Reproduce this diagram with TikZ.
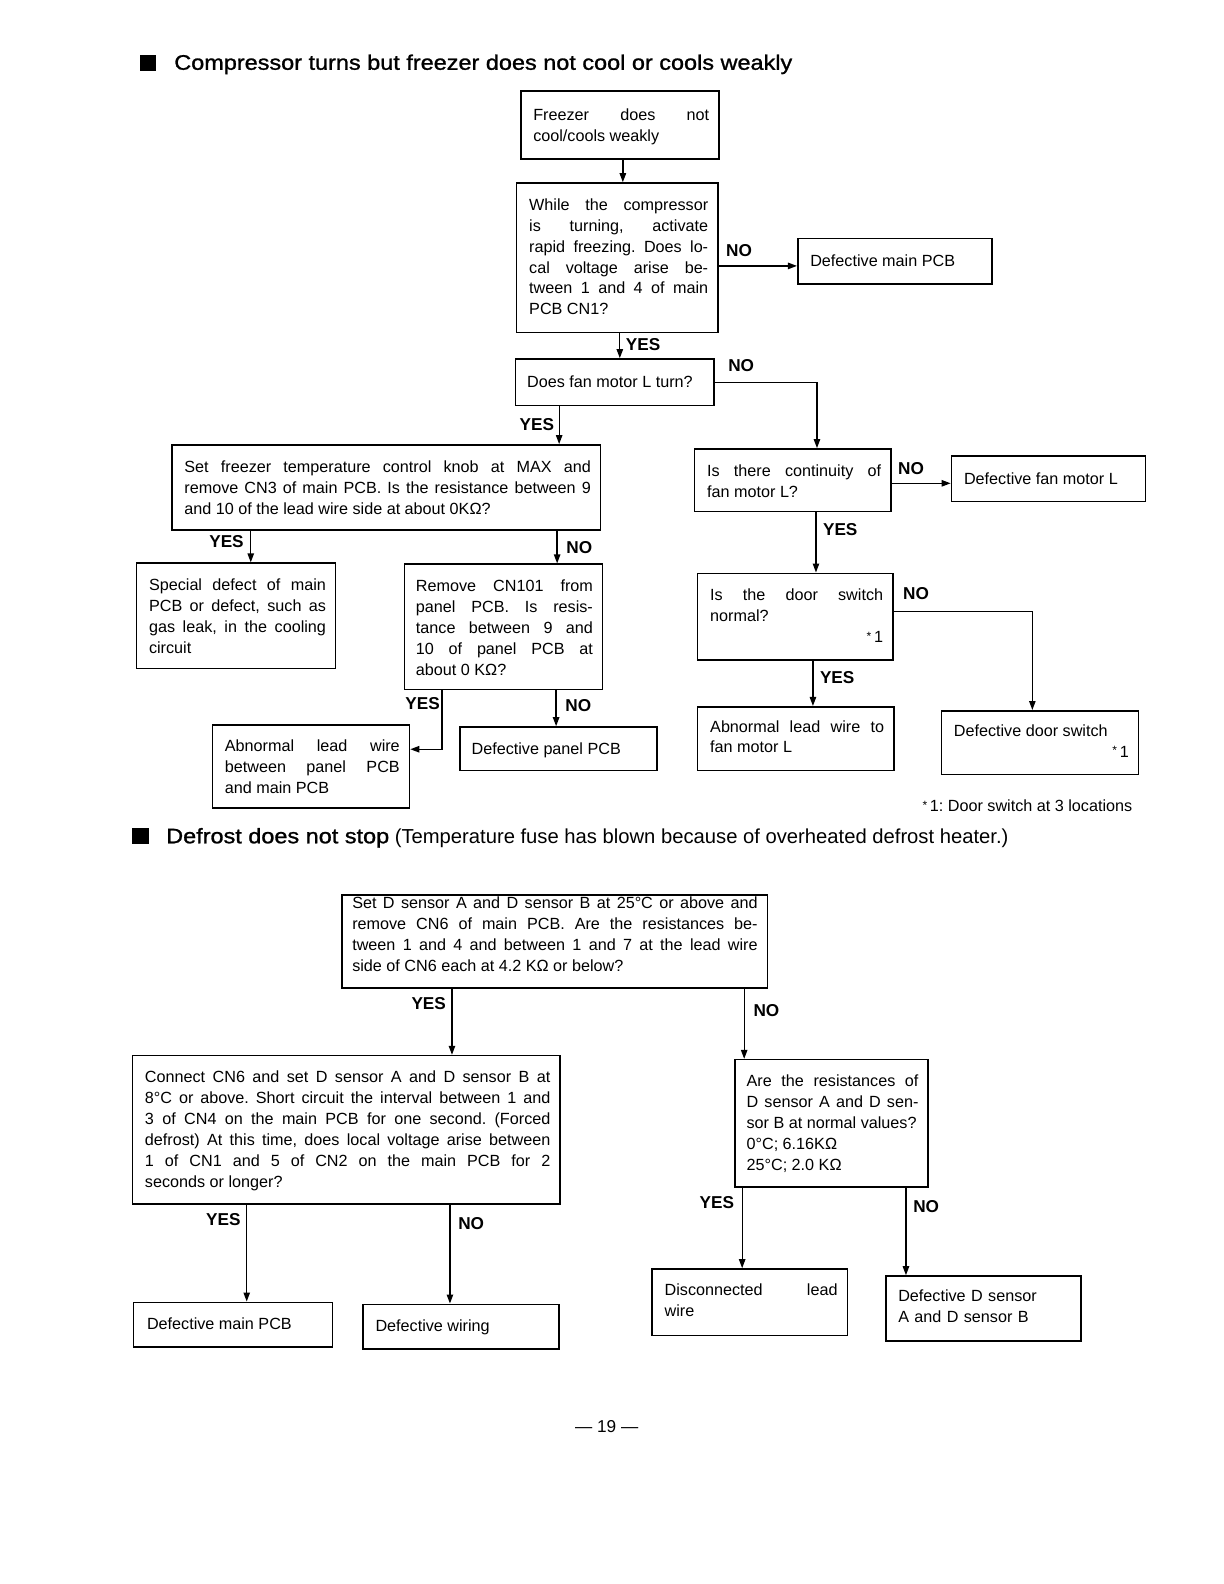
\documentclass[tikz,border=0pt]{standalone}
\usepackage{fontspec}
\setmainfont{Liberation Sans}
\newfontfamily\ttlfont[FakeStretch=1.115,FakeBold=1.2]{Liberation Sans}
\usetikzlibrary{arrows.meta,fit}
\newcommand\bfont{\fontsize{8.09}{10.46}\selectfont\frenchspacing\tolerance=10000 \hyphenpenalty=10000 \exhyphenpenalty=10000 }
\newcommand\fnstar{\raisebox{.25ex}{\fontsize{6}{6}\selectfont *}\,}
\tikzset{
  x=0.50556pt, y=-0.50556pt,
  frame/.style={draw, line width=0.8pt, inner sep=0pt},
  txt/.style={anchor=base west, inner sep=0pt, align=justify, font=\bfont},
  txl/.style={anchor=base west, inner sep=0pt, align=left, font=\bfont},
  one/.style={anchor=base west, inner sep=0pt, font=\bfont},
  arr/.style={line width=0.65pt, -{Triangle[length=4.5pt,width=3.2pt]}},
  lab/.style={font=\fontsize{8.6}{10}\selectfont\bfseries, inner sep=0pt},
}
\begin{document}
\begin{tikzpicture}
\useasboundingbox (0,0) rectangle (1210.5,1566.6);

% ---------- title 1
\fill (138,54) rectangle (154,70);
\node[anchor=base west, inner sep=0pt, font=\ttlfont\fontsize{10.52}{12}\selectfont] (t1) at (172,69) {Compressor turns but freezer does not cool or cools weakly};

% ---------- boxes, part 1
\node[frame, fit={(515,90) (711,157)}] (b1) {};
\node[txt, text width=87.97pt] (b1t) at (527,119) {Freezer does not\linebreak cool/cools weakly};

\node[frame, fit={(511,181) (710,329)}] (b2) {};
\node[txt, text width=89.48pt] (b2t) at (523,208) {While the compressor\linebreak is turning, activate\linebreak rapid freezing. Does lo-\linebreak cal voltage arise be-\linebreak tween 1 and 4 of main\linebreak PCB CN1?};

\node[frame, fit={(789,236) (981,281)}] (b3) {};
\node[one] (b3t) at (801,264) {Defective main PCB};

\node[frame, fit={(510,355) (706,401)}] (b4) {};
\node[one] (b4t) at (521,383) {Does fan motor L turn?};

\node[frame, fit={(170,440) (594,524)}] (b5) {};
\node[txt, text width=203.2pt] (b5t) at (182,467) {Set freezer temperature control knob at MAX and\linebreak remove CN3 of main PCB. Is the resistance between 9\linebreak and 10 of the lead wire side at about 0K\symbol{"03A9}?};

\node[frame, fit={(687,444) (881,506)}] (b6) {};
\node[txt, text width=86.95pt] (b6t) at (699,471) {Is there continuity of\linebreak fan motor L?};

\node[frame, fit={(941,451) (1133,496)}] (b7) {};
\node[one] (b7t) at (953,479) {Defective fan motor L};

\node[frame, fit={(135,557) (332,661)}] (b8) {};
\node[txt, text width=88.47pt] (b8t) at (147,584) {Special defect of main\linebreak PCB or defect, such as\linebreak gas leak, in the cooling\linebreak circuit};

\node[frame, fit={(400,558) (596,682)}] (b9) {};
\node[txt, text width=88.47pt] (b9t) at (411,585) {Remove CN101 from\linebreak panel PCB. Is resis-\linebreak tance between 9 and\linebreak 10 of panel PCB at\linebreak about 0 K\symbol{"03A9}?};

\node[frame, fit={(690,567) (883,653)}] (b10) {};
\node[txt, text width=86.45pt] (b10t) at (702,594) {Is the door switch\linebreak normal?\\\null\hfill\fnstar 1};

\node[frame, fit={(210,717) (405,799)}] (b11) {};
\node[txt, text width=87.46pt] (b11t) at (222,743) {Abnormal lead wire\linebreak between panel PCB\linebreak and main PCB};

\node[frame, fit={(455,719) (650,762)}] (b12) {};
\node[one] (b12t) at (466,746) {Defective panel PCB};

\node[frame, fit={(690,699) (884,762)}] (b13) {};
\node[txt, text width=86.95pt] (b13t) at (702,724) {Abnormal lead wire to\linebreak fan motor L};

\node[frame, fit={(931,703) (1126,766)}] (b14) {};
\node[txt, text width=87.46pt] (b14t) at (943,728) {Defective door switch\\\null\hfill\fnstar 1};

\node[one] (fn) at (912,803) {\fnstar 1: Door switch at 3 locations};

% ---------- connectors, part 1
\draw[arr] (616,0 |- b1.south) -- (616,0 |- b2.north);
\draw[arr] (b2.east |- 0,263) -- (b3.west |- 0,263);
\draw[arr] (613,0 |- b2.south) -- (613,0 |- b4.north);
\draw[arr] (b4.east |- 0,378) -| (808,0 |- b6.north);
\draw[arr] (553,0 |- b4.south) -- (553,0 |- b5.north);
\draw[arr] (b6.east |- 0,478) -- (b7.west |- 0,478);
\draw[arr] (807,0 |- b6.south) -- (807,0 |- b10.north);
\draw[arr] (248,0 |- b5.south) -- (248,0 |- b8.north);
\draw[arr] (551,0 |- b5.south) -- (551,0 |- b9.north);
\draw[arr] (437,0 |- b9.south) |- (b11.east |- 0,741);
\draw[arr] (550,0 |- b9.south) -- (550,0 |- b12.north);
\draw[arr] (804,0 |- b10.south) -- (804,0 |- b13.north);
\draw[arr] (b10.east |- 0,605) -| (1021,0 |- b14.north);

\node[lab] (l1) at (731,248) {NO};
\node[lab] (l2) at (636,341) {YES};
\node[lab] (l3) at (733,362) {NO};
\node[lab] (l4) at (531,420) {YES};
\node[lab] (l5) at (901,463) {NO};
\node[lab] (l6) at (831,524) {YES};
\node[lab] (l7) at (224,536) {YES};
\node[lab] (l8) at (573,542) {NO};
\node[lab] (l9) at (906,587) {NO};
\node[lab] (l10) at (418,696) {YES};
\node[lab] (l11) at (572,698) {NO};
\node[lab] (l12) at (828,670) {YES};

% ---------- title 2
\fill (131,819) rectangle (147,835);
\node[anchor=base west, inner sep=0pt] (t2) at (164,834) {{\ttlfont\fontsize{10.52}{12}\selectfont Defrost does not stop} {\fontsize{10.11}{12}\selectfont(Temperature fuse has blown because of overheated defrost heater.)}};

% ---------- boxes, part 2
\node[frame, fit={(338,885) (759,977)}] (c1) {};
\node[txt, text width=202.7pt] (c1t) at (348,899) {Set D sensor A and D sensor B at 25°C or above and\linebreak remove CN6 of main PCB. Are the resistances be-\linebreak tween 1 and 4 and between 1 and 7 at the lead wire\linebreak side of CN6 each at 4.2 K\symbol{"03A9} or below?};

\node[frame, fit={(131,1044) (554,1191)}] (c2) {};
\node[txt, text width=202.7pt] (c2t) at (143,1071) {Connect CN6 and set D sensor A and D sensor B at\linebreak 8°C or above. Short circuit the interval between 1 and\linebreak 3 of CN4 on the main PCB for one second. (Forced\linebreak defrost) At this time, does local voltage arise between\linebreak 1 of CN1 and 5 of CN2 on the main PCB for 2\linebreak seconds or longer?};

\node[frame, fit={(727,1048) (918,1174)}] (c3) {};
\node[txt, text width=85.94pt] (c3t) at (738,1075) {Are the resistances of\linebreak D sensor A and D sen-\linebreak sor B at normal values?\\ 0°C; 6.16K\symbol{"03A9}\\ 25°C; 2.0 K\symbol{"03A9}};

\node[frame, fit={(132,1288) (329,1332)}] (c4) {};
\node[one] (c4t) at (145,1315) {Defective main PCB};

\node[frame, fit={(359,1290) (553,1334)}] (c5) {};
\node[one] (c5t) at (371,1317) {Defective wiring};

\node[frame, fit={(645,1255) (838,1321)}] (c6) {};
\node[txt, text width=86.45pt] (c6t) at (657,1281) {Disconnected lead\linebreak wire};

\node[frame, fit={(876,1262) (1069,1326)}] (c7) {};
\node[txl, text width=86.95pt] (c7t) at (888,1287) {Defective D sensor\\A and D sensor B};

% ---------- connectors, part 2
\draw[arr] (447,0 |- c1.south) -- (447,0 |- c2.north);
\draw[arr] (736,0 |- c1.south) -- (736,0 |- c3.north);
\draw[arr] (244,0 |- c2.south) -- (244,0 |- c4.north);
\draw[arr] (445,0 |- c2.south) -- (445,0 |- c5.north);
\draw[arr] (734,0 |- c3.south) -- (734,0 |- c6.north);
\draw[arr] (896,0 |- c3.south) -- (896,0 |- c7.north);

\node[lab] (m1) at (424,993) {YES};
\node[lab] (m2) at (758,999) {NO};
\node[lab] (m3) at (221,1206) {YES};
\node[lab] (m4) at (466,1210) {NO};
\node[lab] (m5) at (709,1189) {YES};
\node[lab] (m6) at (916,1193) {NO};

% ---------- page number
\node[inner sep=0pt, font=\fontsize{8.6}{10}\selectfont] (pg) at (600,1411) {— 19 —};
\end{tikzpicture}
\end{document}
